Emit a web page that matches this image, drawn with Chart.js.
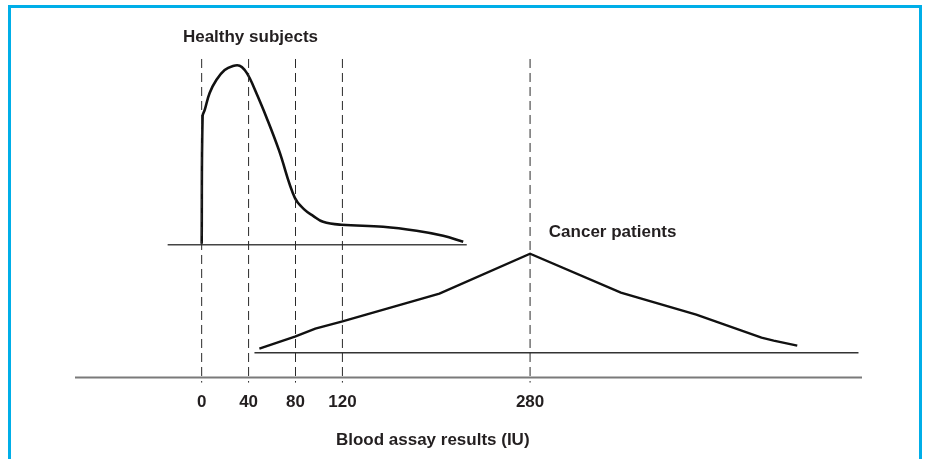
<!DOCTYPE html>
<html>
<head>
<meta charset="utf-8">
<script src="https://cdn.jsdelivr.net/npm/chart.js@4.4.1/dist/chart.umd.min.js"></script>
<style>
  html, body { margin: 0; padding: 0; background: #ffffff; }
  #wrap { position: relative; width: 926px; height: 459px; overflow: hidden; }
  #frame {
    position: absolute; left: 8px; top: 5px; width: 908px; height: 460px;
    border: 3px solid #00aee8; border-bottom: none; pointer-events: none;
  }
  canvas { position: absolute; left: 0; top: 0; }
</style>
</head>
<body>
<div id="wrap">
  <canvas id="assayChart" width="926" height="459"></canvas>
  <div id="frame"></div>
</div>
<script>
// Marked cut-off values on the assay axis (IU)
const tickValues = [0, 40, 80, 120, 280];

// Healthy subjects distribution
const healthyX = [0, 0.8, 2.6, 6.8, 12.5, 19.6, 26.7, 32.4, 36.7, 40.9, 46.6, 55.1, 65.8, 79.4, 87.9, 95, 103.5, 119.2, 154.7, 183.2, 205.9, 223];
const healthyY = [134, 262, 268, 285, 298, 308, 312, 312.3, 308, 300, 285, 261, 228, 180, 168, 162, 156, 153, 151, 147, 142, 136];

// Cancer patients distribution
const cancerX = [49.2, 79.5, 96.9, 119.3, 181.9, 202.7, 280, 357.4, 421.7, 477.3, 487.7, 507.8];
const cancerY = [29, 41, 49, 56, 77, 84, 124, 85, 63, 40, 37, 32];

// Baselines: [start, end] and level
const healthyBase = [-29, 226];
const healthyLevel = 133;
const cancerBase = [45, 560];
const cancerLevel = 25;
const axisRange = [-108, 563];

// Dashed guide lines span
const guideTop = 319;
const guideBottom = -5;

const fontFamily = '"Liberation Sans", Arial, sans-serif';
const labelFont = 'bold 17px ' + fontFamily;
const inkColor = '#231f20';

function toPoints(xs, ys) {
    return xs.map((x, i) => ({ x: x, y: ys[i] }));
}

function hline(range, level) {
    return [{ x: range[0], y: level }, { x: range[1], y: level }];
}

const guideSets = tickValues.map(v => ({
    data: [{ x: v, y: guideTop }, { x: v, y: guideBottom }],
    borderColor: '#2a2a2a',
    borderWidth: 1,
    borderDash: [9, 5],
    pointRadius: 0,
    showLine: true
}));

// Free text placed in data coordinates
const textLabels = [
    { text: 'Healthy subjects', x: -16, y: 341, align: 'left' },
    { text: 'Cancer patients', x: 296, y: 145, align: 'left' },
    { text: 'Blood assay results (IU)', x: 197, y: -63, align: 'center' }
];

const textPlugin = {
    id: 'textLabels',
    afterDraw(chart) {
        const ctx = chart.ctx;
        const xs = chart.scales.x;
        const ys = chart.scales.y;
        ctx.save();
        ctx.font = labelFont;
        ctx.fillStyle = inkColor;
        ctx.textBaseline = 'middle';
        textLabels.forEach(l => {
            ctx.textAlign = l.align;
            ctx.fillText(l.text, xs.getPixelForValue(l.x), ys.getPixelForValue(l.y));
        });
        ctx.restore();
    }
};

new Chart(document.getElementById('assayChart'), {
    type: 'scatter',
    data: {
        datasets: [
            ...guideSets,
            {
                data: hline(axisRange, 0),
                borderColor: '#7a7a7a',
                borderWidth: 2,
                pointRadius: 0,
                showLine: true
            },
            {
                data: hline(healthyBase, healthyLevel),
                borderColor: '#444444',
                borderWidth: 1.5,
                pointRadius: 0,
                showLine: true
            },
            {
                data: hline(cancerBase, cancerLevel),
                borderColor: '#333333',
                borderWidth: 1.5,
                pointRadius: 0,
                showLine: true
            },
            {
                data: toPoints(healthyX, healthyY),
                borderColor: '#111111',
                borderWidth: 2.6,
                pointRadius: 0,
                showLine: true,
                tension: 0.4
            },
            {
                data: toPoints(cancerX, cancerY),
                borderColor: '#111111',
                borderWidth: 2.4,
                pointRadius: 0,
                showLine: true,
                tension: 0
            }
        ]
    },
    options: {
        responsive: false,
        animation: false,
        layout: { padding: { left: 75, right: 64, top: 57, bottom: 41 } },
        plugins: {
            legend: { display: false },
            tooltip: { enabled: false }
        },
        scales: {
            x: {
                type: 'linear',
                min: axisRange[0],
                max: axisRange[1],
                afterBuildTicks: (axis) => {
                    axis.ticks = tickValues.map(v => ({ value: v }));
                },
                grid: { display: false, drawTicks: false },
                border: { display: false },
                ticks: {
                    padding: 5,
                    autoSkip: false,
                    maxRotation: 0,
                    color: inkColor,
                    font: { family: fontFamily, size: 17, weight: 'bold' }
                }
            },
            y: {
                display: false,
                min: -10,
                max: 321
            }
        }
    },
    plugins: [textPlugin]
});
</script>
</body>
</html>
